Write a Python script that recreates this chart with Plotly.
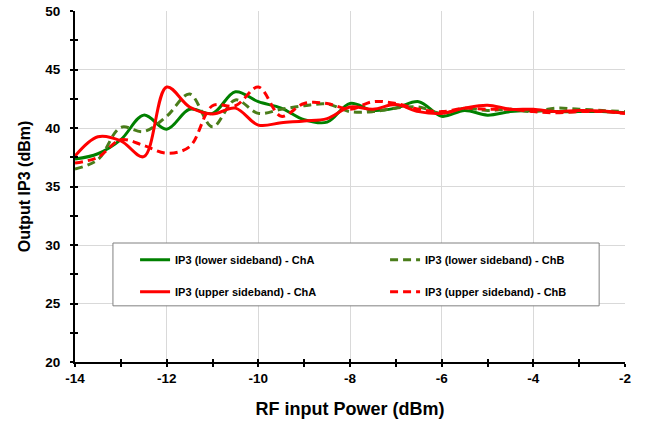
import plotly.graph_objects as go

# RF input power sweep (dBm)
rf_in = [-14, -13.5, -13, -12.5, -12, -11.5, -11, -10.5, -10, -9.5, -9, -8.5, -8,
         -7.5, -7, -6.5, -6, -5.5, -5, -4.5, -4, -3.5, -3, -2.5, -2]

ip3_lower_cha = [37.35, 37.8, 39.0, 41.1, 39.9, 41.6, 41.25, 43.1, 42.25, 41.7, 40.7, 40.5, 42.1,
                 41.5, 41.7, 42.25, 41.0, 41.5, 41.1, 41.4, 41.5, 41.4, 41.4, 41.4, 41.3]
ip3_lower_chb = [36.5, 37.3, 40.05, 39.7, 41.0, 42.9, 40.1, 42.4, 41.25, 41.6, 41.9, 42.05, 41.4,
                 41.4, 41.7, 41.8, 41.25, 41.7, 41.5, 41.6, 41.4, 41.7, 41.6, 41.5, 41.4]
ip3_upper_cha = [37.6, 39.25, 38.9, 37.55, 43.5, 41.8, 41.2, 41.7, 40.25, 40.45, 40.6, 40.8, 41.8,
                 41.6, 42.0, 41.4, 41.25, 41.7, 41.95, 41.6, 41.6, 41.4, 41.5, 41.45, 41.25]
ip3_upper_chb = [37.0, 37.5, 39.0, 38.5, 37.85, 38.4, 41.9, 41.9, 43.5, 41.0, 42.1, 42.1, 41.6,
                 42.25, 42.1, 41.6, 41.4, 41.7, 41.6, 41.6, 41.4, 41.3, 41.4, 41.4, 41.25]

x_ticks = [-14, -12, -10, -8, -6, -4, -2]
x_ticklabels = ["-14", "-12", "-10", "-8", "-6", "-4", "-2"]
y_ticks = [20, 25, 30, 35, 40, 45, 50]

FONT = "Liberation Sans, Arial, sans-serif"

series = [
    ("IP3 (lower sideband) - ChA", ip3_lower_cha, "#008000", "solid", "legend"),
    ("IP3 (lower sideband) - ChB", ip3_lower_chb, "#4a7d1a", "8px,5px", "legend"),
    ("IP3 (upper sideband) - ChA", ip3_upper_cha, "#ff0000", "solid", "legend2"),
    ("IP3 (upper sideband) - ChB", ip3_upper_chb, "#ff0000", "8px,5px", "legend2"),
]

fig = go.Figure()
for name, vals, color, dash, leg in series:
    fig.add_trace(go.Scatter(
        x=rf_in, y=vals, name=name, mode="lines", legend=leg,
        line=dict(color=color, width=3, dash=dash, shape="spline", smoothing=1.0),
    ))

tickfont = dict(family=FONT, size=13.5, color="black", weight="bold")
axis_common = dict(
    showgrid=True, gridcolor="#d9d9d9", gridwidth=1,
    showline=True, linecolor="black", linewidth=2,
    ticks="outside", ticklen=3, tickcolor="black", tickwidth=1.5,
    tickfont=tickfont, zeroline=False, automargin=False,
)

fig.update_xaxes(
    range=[-14, -2], tickvals=x_ticks, ticktext=x_ticklabels,
    minor=dict(dtick=1, tick0=-14, ticks="outside", ticklen=3, tickcolor="black", tickwidth=1.5, showgrid=False),
    title=dict(text="RF input Power (dBm)", font=dict(family=FONT, size=18, color="black", weight="bold"),
               standoff=17),
    **axis_common,
)
fig.update_yaxes(
    range=[20, 50], tickvals=y_ticks, ticklabelstandoff=7,
    minor=dict(dtick=2.5, tick0=20, ticks="outside", ticklen=3, tickcolor="black", tickwidth=1.5, showgrid=False),
    title=dict(text="Output IP3 (dBm)", font=dict(family=FONT, size=16, color="black", weight="bold"),
               standoff=11),
    **axis_common,
)

# inside halves of the crossing tick marks
inner = dict(showgrid=False, showline=False, zeroline=False, showticklabels=False,
             ticks="inside", ticklen=3, tickcolor="black", tickwidth=1.5)
fig.update_layout(
    xaxis2=dict(overlaying="x", anchor="y", range=[-14, -2], tickvals=x_ticks,
                minor=dict(dtick=1, tick0=-14, ticks="inside", ticklen=3, tickcolor="black", tickwidth=1.5),
                **inner),
    yaxis2=dict(overlaying="y", anchor="x", range=[20, 50], tickvals=y_ticks,
                minor=dict(dtick=2.5, tick0=20, ticks="inside", ticklen=3, tickcolor="black", tickwidth=1.5),
                **inner),
)
fig.add_trace(go.Scatter(x=[None], y=[None], xaxis="x2", yaxis="y2", showlegend=False, hoverinfo="skip"))

legend_common = dict(
    orientation="h", xanchor="left", yanchor="middle", x=0.109,
    bgcolor="rgba(0,0,0,0)", borderwidth=0,
    font=dict(family=FONT, size=11, color="black", weight="bold"),
    entrywidth=205, entrywidthmode="pixels", itemwidth=30,
)

fig.update_layout(
    width=646, height=423,
    margin=dict(l=75, r=20, t=11, b=61),
    paper_bgcolor="white", plot_bgcolor="white",
    legend=dict(y=0.291, **legend_common),
    legend2=dict(y=0.200, **legend_common),
    shapes=[dict(type="rect", xref="paper", yref="paper",
                 x0=0.069, x1=0.953, y0=0.160, y1=0.339,
                 line=dict(color="#808080", width=1), fillcolor="white", layer="above")],
)

fig.write_html("out.html", config={"displayModeBar": False},
               post_script="document.body.style.margin = '0';")
